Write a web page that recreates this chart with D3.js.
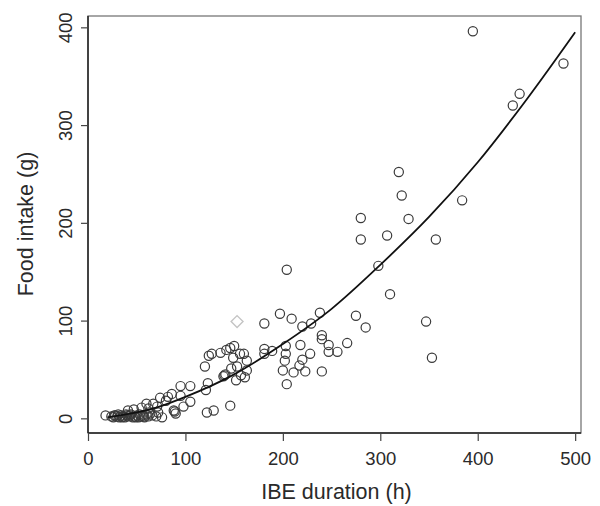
<!DOCTYPE html>
<html>
<head>
<meta charset="utf-8">
<script src="https://cdn.jsdelivr.net/npm/d3@7"></script>
<style>
  body { margin: 0; background: #fff; }
  text { font-family: "Liberation Sans", Arial, sans-serif; fill: #2a2a2a; }
</style>
</head>
<body>
<div class="container"></div>
<script>
// data
const ibeHours = [18, 24, 26, 28, 30, 32, 34, 36, 38, 40, 42, 44, 46, 48, 50, 52, 54, 56, 58, 60,
  62, 64, 66, 70, 72, 76, 41, 47, 55, 62, 67, 71, 60, 74, 80, 82, 86, 88, 90, 89,
  95, 105, 95, 98, 105, 121, 123, 120, 122, 129, 124, 127, 136, 142, 146, 150, 149, 156, 160, 163,
  153, 147, 163, 157, 152, 161, 140, 141, 139, 146, 181, 197, 209, 220, 229, 238, 240, 240, 247, 247,
  256, 266, 181, 181, 189, 203, 203, 202, 200, 204, 211, 218, 228, 220, 217, 223, 240, 204, 275, 285,
  298, 310, 347, 353, 395, 488, 443, 436, 319, 322, 384, 280, 329, 280, 307, 357,
  27, 31, 35, 39, 43, 49, 53, 57];
const foodGrams = [3, 2, 1, 3, 2, 1, 3, 2, 1, 3, 2, 4, 1, 2, 3, 1, 2, 3, 1, 4,
  2, 5, 3, 2, 6, 1, 8, 9, 11, 10, 15, 12, 15, 21, 18, 22, 25, 8, 5, 7,
  33, 33, 23, 12, 17, 29, 36, 53, 6, 8, 64, 66, 67, 70, 72, 74, 62, 66, 66, 59,
  53, 51, 49, 44, 39, 42, 44, 45, 43, 13, 97, 107, 102, 94, 97, 108, 85, 81, 75, 68,
  68, 77, 71, 66, 69, 74, 66, 59, 49, 35, 47, 75, 66, 60, 54, 48, 48, 152, 105, 93,
  156, 127, 99, 62, 396, 363, 332, 320, 252, 228, 223, 205, 204, 183, 187, 183,
  3, 4, 1, 4, 3, 1, 4, 2];
// the faint grey diamond
const outlierHours = [153];
const outlierGrams = [99];
// fitted curve, read at a few places
const fitHours = [20, 50, 70, 100, 150, 200, 250, 300, 350, 400, 450, 500];
const fitGrams = [1, 6, 11, 22, 45, 76, 112, 157, 206, 262, 326, 395];
const xTicks = [0, 100, 200, 300, 400, 500];
const yTicks = [0, 100, 200, 300, 400];

const w = 600;
const h = 506;
const plotLeft = 88;
const plotRight = 581;
const plotTop = 16;
const plotBottom = 433;

const svg = d3.select(".container").append("svg")
  .attr("width", w)
  .attr("height", h);

svg.append("rect").attr("width", w).attr("height", h).attr("fill", "#fff");

const xScale = d3.scaleLinear().domain([0, 506]).range([plotLeft, plotRight]);
const yScale = d3.scaleLinear().domain([-15, 411.6]).range([plotBottom, plotTop]);

// box
svg.append("rect")
  .attr("x", plotLeft).attr("y", plotTop)
  .attr("width", plotRight - plotLeft).attr("height", plotBottom - plotTop)
  .attr("fill", "none")
  .attr("stroke", "#777")
  .attr("stroke-width", 1.3);

// axes
const xAxis = d3.axisBottom(xScale).tickValues(xTicks).tickSize(8).tickSizeOuter(0);
const gx = svg.append("g")
  .attr("transform", "translate(0, " + plotBottom + ")")
  .call(xAxis);
gx.select(".domain").attr("d", "M" + xScale(0) + ",0H" + plotRight).attr("stroke", "#222").attr("stroke-width", 1.5);
gx.selectAll(".tick line").attr("stroke", "#444").attr("stroke-width", 1.2);
gx.selectAll(".tick text")
  .attr("font-size", 18.5)
  .attr("y", 32)
  .attr("dy", 0)
  .style("font-family", "Liberation Sans, Arial, sans-serif")
  .attr("fill", "#2a2a2a");

const yAxis = d3.axisLeft(yScale).tickValues(yTicks).tickSize(7).tickSizeOuter(0);
const gy = svg.append("g")
  .attr("transform", "translate(" + plotLeft + ", 0)")
  .call(yAxis);
gy.select(".domain").attr("d", "M0," + plotTop + "V" + plotBottom).attr("stroke", "#222").attr("stroke-width", 1.5);
gy.selectAll(".tick line").attr("stroke", "#444").attr("stroke-width", 1.2);
gy.selectAll(".tick text")
  .attr("font-size", 18.5)
  .attr("x", 0)
  .attr("dy", 0)
  .attr("text-anchor", "middle")
  .attr("transform", "translate(-16.5, 0) rotate(-90)")
  .style("font-family", "Liberation Sans, Arial, sans-serif")
  .attr("fill", "#2a2a2a");

// axis titles
svg.append("text")
  .attr("x", (plotLeft + plotRight) / 2 + 2)
  .attr("y", 499)
  .attr("text-anchor", "middle")
  .attr("font-size", 21.5)
  .text("IBE duration (h)");
svg.append("text")
  .attr("transform", "translate(33, " + 224 + ") rotate(-90)")
  .attr("text-anchor", "middle")
  .attr("font-size", 21.5)
  .text("Food intake (g)");

// points
const points = ibeHours.map((d, i) => [d, foodGrams[i]]);
svg.append("g").selectAll("circle").data(points).enter().append("circle")
  .attr("cx", d => xScale(d[0]))
  .attr("cy", d => yScale(d[1]))
  .attr("r", 4.6)
  .attr("fill", "none")
  .attr("stroke", "#3a3a3a")
  .attr("stroke-width", 1.2);

// grey diamond
const outliers = outlierHours.map((d, i) => [d, outlierGrams[i]]);
svg.append("g").selectAll("path").data(outliers).enter().append("path")
  .attr("d", d3.symbol(d3.symbolDiamond2, 90))
  .attr("transform", d => "translate(" + xScale(d[0]) + "," + yScale(d[1]) + ")")
  .attr("fill", "none")
  .attr("stroke", "#c4c4c4")
  .attr("stroke-width", 1.4);

// fitted curve
const fit = fitHours.map((d, i) => [d, fitGrams[i]]);
svg.append("path")
  .datum(fit)
  .attr("d", d3.line().x(d => xScale(d[0])).y(d => yScale(d[1])).curve(d3.curveMonotoneX))
  .attr("fill", "none")
  .attr("stroke", "#111")
  .attr("stroke-width", 1.8);
</script>
</body>
</html>
